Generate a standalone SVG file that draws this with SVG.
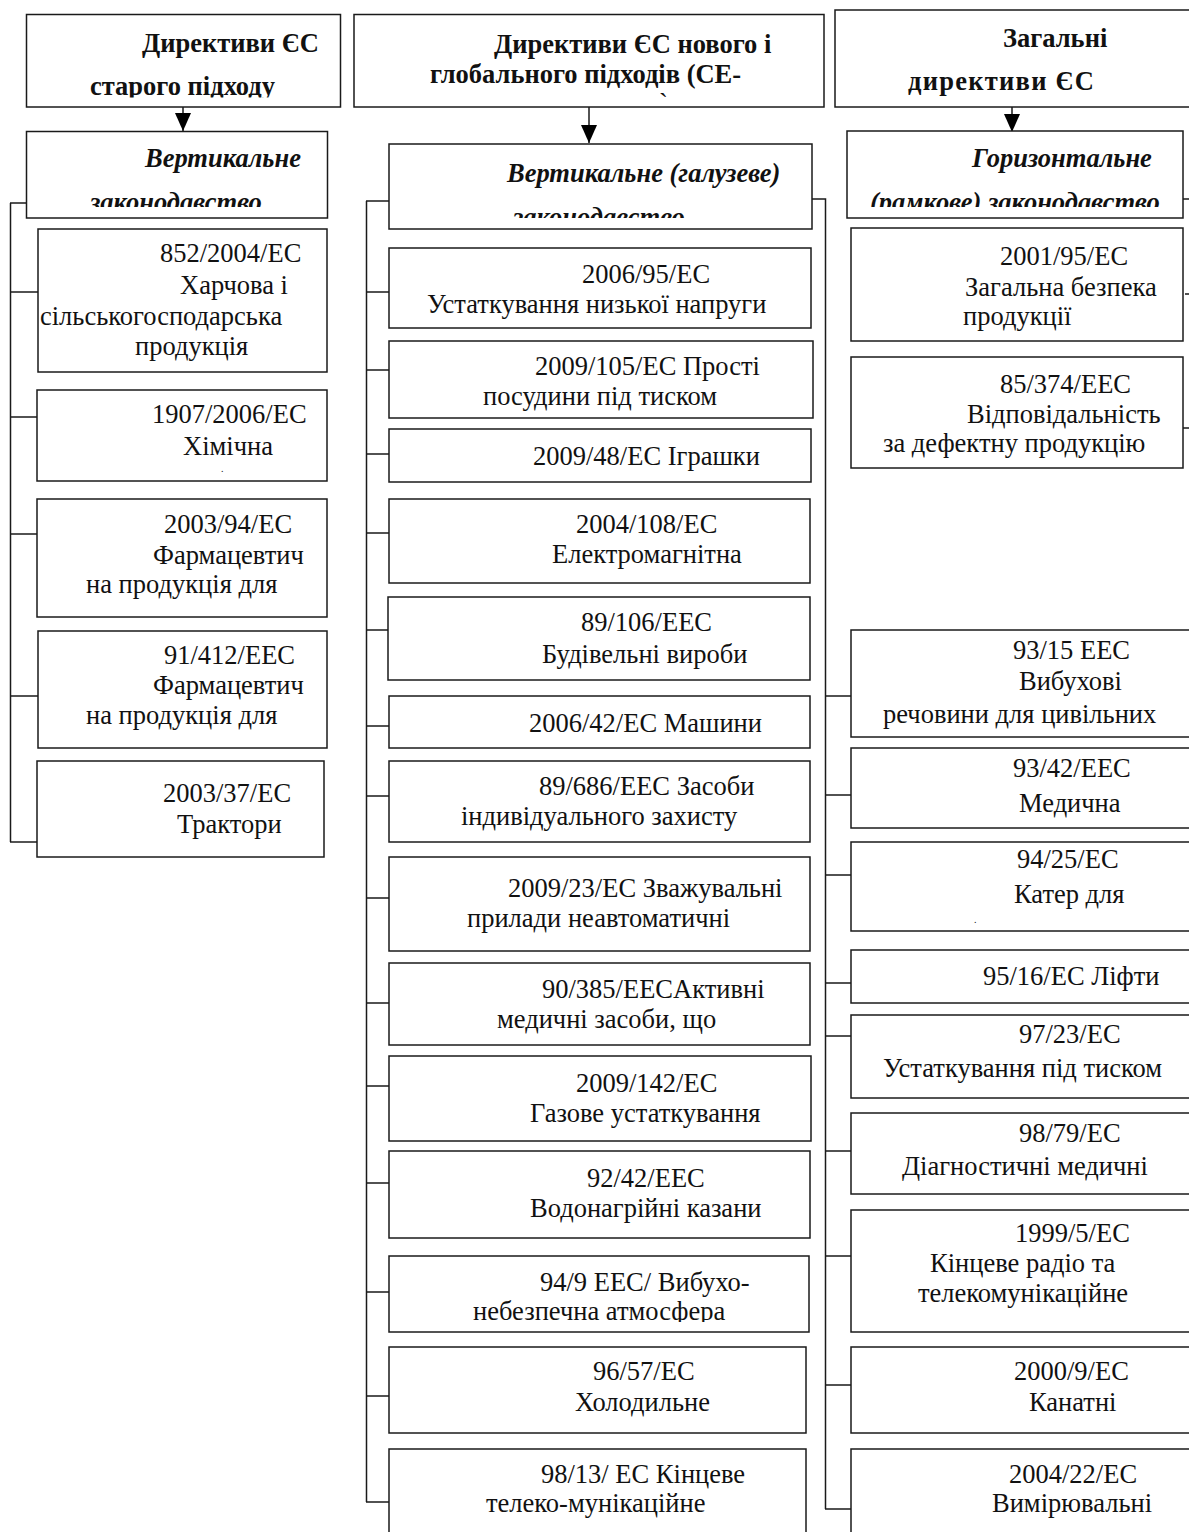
<svg xmlns="http://www.w3.org/2000/svg" width="1189" height="1532" viewBox="0 0 1189 1532">
<style>
.box{fill:#fff;stroke:#1a1a1a;stroke-width:1.5}
.t{font-family:"Liberation Serif","Times New Roman",serif;font-size:26.5px;fill:#111}
.b{font-weight:bold}
.bi{font-weight:bold;font-style:italic}
.dot{font-family:"Liberation Serif","Times New Roman",serif;font-size:10px;fill:#111}
.c{stroke:#1a1a1a;stroke-width:1.5;fill:none}
</style>
<defs>
<marker id="arr" viewBox="0 0 18 16" refX="18" refY="8" markerWidth="18" markerHeight="16" markerUnits="userSpaceOnUse" orient="auto">
<path d="M0,0 L18,8 L0,16 z" fill="#000"/>
</marker>
<clipPath id="cl1"><rect x="27" y="15" width="313" height="82.5"/></clipPath>
<clipPath id="cl2"><rect x="27" y="132" width="300" height="75"/></clipPath>
<clipPath id="cm2"><rect x="389" y="144" width="423" height="74"/></clipPath>
<clipPath id="cr2"><rect x="847" y="131" width="336" height="76"/></clipPath>
<clipPath id="cr9315"><rect x="851" y="630" width="340" height="99"/></clipPath>
<clipPath id="cm949"><rect x="389" y="1256" width="420" height="66"/></clipPath>
</defs>
<rect width="1189" height="1532" fill="#fff"/>

<g id="connectors">
<line class="c" x1="183" y1="107" x2="183" y2="131" marker-end="url(#arr)"/>
<line class="c" x1="589" y1="107" x2="589" y2="143" marker-end="url(#arr)"/>
<line class="c" x1="1012" y1="107" x2="1012" y2="132" marker-end="url(#arr)"/>
<path class="c" d="M10.5,203 V842 M10,203 H27 M10,292 H38 M10,417 H37 M10,534 H37 M10,696 H38"/>
<line class="c" x1="10" y1="842" x2="37" y2="842" stroke-width="2"/>
<path class="c" d="M366.5,201 V1502 M366,201 H389 M366,292 H389 M366,370 H389 M366,454 H389 M366,533 H389 M366,630 H389 M366,726 H389 M366,796 H389 M366,898 H389 M366,1003 H389 M366,1086 H389 M366,1183 H389 M366,1292 H389 M366,1396 H389 M366,1502 H389"/>
<path class="c" d="M812,199 H825.5 V1509 M825,696 H851 M825,795 H851 M825,875 H851 M825,983 H851 M825,1036 H851 M825,1151 H851 M825,1256 H851 M825,1385 H851 M825,1509 H851"/>
<path class="c" d="M1183,199 H1189 M1185,294 H1189 M1183,428 H1189"/>
</g>

<g id="n-old">
<rect class="box" x="26.5" y="14.5" width="314" height="92.5"/>
<g clip-path="url(#cl1)">
<text class="t b" x="142" y="52">Директиви ЄС</text>
<text class="t b" x="90" y="95">старого підходу</text>
</g>
</g>
<g id="n-vert-old">
<rect class="box" x="26.5" y="131.5" width="301" height="86.5"/>
<g clip-path="url(#cl2)">
<text class="t bi" x="145" y="167">Вертикальне</text>
<text class="t bi" x="90" y="211">законодавство</text>
</g>
</g>
<g id="n-852">
<rect class="box" x="38" y="229" width="289" height="143"/>
<text class="t" x="160" y="262">852/2004/ЕС</text>
<text class="t" x="180" y="294">Харчова і</text>
<text class="t" x="40" y="325">сільськогосподарська</text>
<text class="t" x="135" y="355">продукція</text>
</g>
<g id="n-1907">
<rect class="box" x="37" y="390" width="290" height="91"/>
<text class="t" x="152" y="423">1907/2006/ЕС</text>
<text class="t" x="183" y="455">Хімічна</text>
<text class="dot" x="221" y="472">.</text>
</g>
<g id="n-2003-94">
<rect class="box" x="37" y="499" width="290" height="118"/>
<text class="t" x="164" y="533">2003/94/ЕС</text>
<text class="t" x="153" y="564">Фармацевтич</text>
<text class="t" x="86" y="593">на продукція для</text>
</g>
<g id="n-91-412">
<rect class="box" x="38" y="631" width="289" height="117"/>
<text class="t" x="164" y="664">91/412/EEC</text>
<text class="t" x="153" y="694">Фармацевтич</text>
<text class="t" x="86" y="724">на продукція для</text>
</g>
<g id="n-2003-37">
<rect class="box" x="37" y="761" width="287" height="96"/>
<text class="t" x="163" y="802">2003/37/ЕС</text>
<text class="t" x="177" y="833">Трактори</text>
</g>

<g id="n-new">
<rect class="box" x="354" y="14.5" width="470" height="92.5"/>
<text class="t b" x="494" y="53">Директиви ЄС нового і</text>
<text class="t b" x="430" y="83">глобального підходів (СЕ-</text>
<text class="t" x="659" y="112" font-size="24">`</text>
</g>
<g id="n-vert-new">
<rect class="box" x="389" y="144" width="423" height="85"/>
<g clip-path="url(#cm2)">
<text class="t bi" x="507" y="182">Вертикальне (галузеве)</text>
<text class="t bi" x="513" y="226">законодавство</text>
</g>
</g>
<g id="n-2006-95">
<rect class="box" x="389" y="248" width="422" height="80"/>
<text class="t" x="582" y="283">2006/95/ЕС</text>
<text class="t" x="427" y="313">Устаткування низької напруги</text>
</g>
<g id="n-2009-105">
<rect class="box" x="389" y="341" width="424" height="77"/>
<text class="t" x="535" y="375">2009/105/ЕС Прості</text>
<text class="t" x="483" y="405">посудини під тиском</text>
</g>
<g id="n-2009-48">
<rect class="box" x="389" y="429" width="422" height="53"/>
<text class="t" x="533" y="465">2009/48/ЕС Іграшки</text>
</g>
<g id="n-2004-108">
<rect class="box" x="389" y="499" width="421" height="84"/>
<text class="t" x="576" y="533">2004/108/ЕС</text>
<text class="t" x="552" y="563">Електромагнітна</text>
</g>
<g id="n-89-106">
<rect class="box" x="388" y="597" width="422" height="83"/>
<text class="t" x="581" y="631">89/106/EEC</text>
<text class="t" x="542" y="663">Будівельні вироби</text>
</g>
<g id="n-2006-42">
<rect class="box" x="389" y="696" width="421" height="52"/>
<text class="t" x="529" y="732">2006/42/ЕС Машини</text>
</g>
<g id="n-89-686">
<rect class="box" x="389" y="761" width="421" height="81"/>
<text class="t" x="539" y="795">89/686/EEC Засоби</text>
<text class="t" x="461" y="825">індивідуального захисту</text>
</g>
<g id="n-2009-23">
<rect class="box" x="389" y="857" width="421" height="94"/>
<text class="t" x="508" y="897">2009/23/ЕС Зважувальні</text>
<text class="t" x="467" y="927">прилади неавтоматичні</text>
</g>
<g id="n-90-385">
<rect class="box" x="389" y="963" width="421" height="82"/>
<text class="t" x="542" y="998">90/385/EECАктивні</text>
<text class="t" x="497" y="1028">медичні засоби, що</text>
</g>
<g id="n-2009-142">
<rect class="box" x="389" y="1056" width="422" height="85"/>
<text class="t" x="576" y="1092">2009/142/ЕС</text>
<text class="t" x="530" y="1122">Газове устаткування</text>
</g>
<g id="n-92-42">
<rect class="box" x="389" y="1151" width="421" height="87"/>
<text class="t" x="587" y="1187">92/42/EEC</text>
<text class="t" x="530" y="1217">Водонагрійні казани</text>
</g>
<g id="n-94-9">
<rect class="box" x="389" y="1256" width="420" height="76"/>
<g clip-path="url(#cm949)">
<text class="t" x="540" y="1291">94/9 EEC/ Вибухо-</text>
<text class="t" x="473" y="1320">небезпечна атмосфера</text>
</g>
</g>
<g id="n-96-57">
<rect class="box" x="389" y="1347" width="417" height="86"/>
<text class="t" x="593" y="1380">96/57/ЕС</text>
<text class="t" x="575" y="1411">Холодильне</text>
</g>
<g id="n-98-13">
<rect class="box" x="389" y="1449" width="417" height="100"/>
<text class="t" x="541" y="1483">98/13/ ЕС Кінцеве</text>
<text class="t" x="486" y="1512">телеко-мунікаційне</text>
</g>

<g id="n-gen">
<rect class="box" x="835" y="10" width="360" height="97"/>
<text class="t b" x="1003" y="47">Загальні</text>
<text class="t b" x="908" y="90" textLength="186" lengthAdjust="spacing">директиви ЄС</text>
</g>
<g id="n-horiz">
<rect class="box" x="847" y="131" width="336" height="87"/>
<g clip-path="url(#cr2)">
<text class="t bi" x="972" y="167">Горизонтальне</text>
<text class="t bi" x="870" y="211">(рамкове) законодавство</text>
</g>
</g>
<g id="n-2001-95">
<rect class="box" x="851" y="228" width="332" height="113"/>
<text class="t" x="1000" y="265">2001/95/ЕС</text>
<text class="t" x="965" y="296">Загальна безпека</text>
<text class="t" x="963" y="325">продукції</text>
</g>
<g id="n-85-374">
<rect class="box" x="851" y="357" width="332" height="111"/>
<text class="t" x="1000" y="393">85/374/EEC</text>
<text class="t" x="967" y="423">Відповідальність</text>
<text class="t" x="883" y="452">за дефектну продукцію</text>
</g>
<g id="n-93-15">
<rect class="box" x="851" y="630" width="350" height="107"/>
<g clip-path="url(#cr9315)">
<text class="t" x="1013" y="659">93/15 EEC</text>
<text class="t" x="1019" y="690">Вибухові</text>
<text class="t" x="883" y="723">речовини для цивільних</text>
</g>
</g>
<g id="n-93-42">
<rect class="box" x="851" y="748" width="350" height="80"/>
<text class="t" x="1013" y="777">93/42/EEC</text>
<text class="t" x="1019" y="812">Медична</text>
</g>
<g id="n-94-25">
<rect class="box" x="851" y="842" width="350" height="89"/>
<text class="t" x="1017" y="868">94/25/ЕС</text>
<text class="t" x="1014" y="903">Катер для</text>
<text class="dot" x="974" y="923">.</text>
</g>
<g id="n-95-16">
<rect class="box" x="851" y="950" width="350" height="53"/>
<text class="t" x="983" y="985">95/16/ЕС Ліфти</text>
</g>
<g id="n-97-23">
<rect class="box" x="851" y="1015" width="350" height="83"/>
<text class="t" x="1019" y="1043">97/23/ЕС</text>
<text class="t" x="883" y="1077">Устаткування під тиском</text>
</g>
<g id="n-98-79">
<rect class="box" x="851" y="1113" width="350" height="81"/>
<text class="t" x="1019" y="1142">98/79/ЕС</text>
<text class="t" x="902" y="1175">Діагностичні медичні</text>
</g>
<g id="n-1999-5">
<rect class="box" x="851" y="1210" width="350" height="122"/>
<text class="t" x="1015" y="1242">1999/5/ЕС</text>
<text class="t" x="930" y="1272">Кінцеве радіо та</text>
<text class="t" x="918" y="1302">телекомунікаційне</text>
</g>
<g id="n-2000-9">
<rect class="box" x="851" y="1347" width="350" height="86"/>
<text class="t" x="1014" y="1380">2000/9/ЕС</text>
<text class="t" x="1029" y="1411">Канатні</text>
</g>
<g id="n-2004-22">
<rect class="box" x="851" y="1449" width="350" height="100"/>
<text class="t" x="1009" y="1483">2004/22/ЕС</text>
<text class="t" x="992" y="1512">Вимірювальні</text>
</g>
</svg>
